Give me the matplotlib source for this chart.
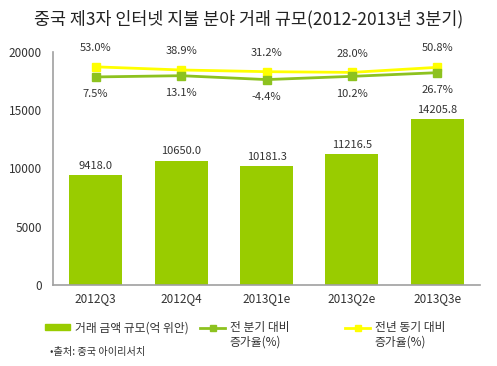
import matplotlib.pyplot as plt
from matplotlib.lines import Line2D
from matplotlib.patches import Patch

plt.rcParams['font.family'] = ['Noto Sans CJK KR', 'DejaVu Sans']

quarters = ['2012Q3', '2012Q4', '2013Q1e', '2013Q2e', '2013Q3e']
volume = [9418.0, 10650.0, 10181.3, 11216.5, 14205.8]
qoq = [7.5, 13.1, -4.4, 10.2, 26.7]
yoy = [53.0, 38.9, 31.2, 28.0, 50.8]

bar_color = '#99CC00'
qoq_color = '#8DC21F'
yoy_color = '#FFFF00'
text_color = '#333333'

W, H = 497, 366
fig = plt.figure(figsize=(W / 100, H / 100), dpi=100)
ax = fig.add_axes([0.1066, 0.2213, 0.8594, 0.6367])

x = range(len(quarters))
ax.bar(x, volume, width=0.62, color=bar_color, zorder=2)
for xi, v in zip(x, volume):
    ax.text(xi, v + 400, f'{v:.1f}', ha='center', va='bottom', fontsize=8, color=text_color)

ax.set_xlim(-0.5, 4.5)
ax.set_ylim(0, 20000)
ax.set_yticks([0, 5000, 10000, 15000, 20000])
ax.set_xticks(list(x))
ax.set_xticklabels(quarters)
ax.tick_params(length=0, labelsize=8.5, colors=text_color, pad=5)
ax.tick_params(axis='y', pad=8)
for s in ['top', 'right']:
    ax.spines[s].set_visible(False)
for s in ['left', 'bottom']:
    ax.spines[s].set_color('#A0A0A0')
    ax.spines[s].set_linewidth(1.2)

# growth rates on a hidden secondary axis
ax2 = ax.twinx()
ax2.set_ylim(-930, 120)
ax2.axis('off')
ax2.plot(x, yoy, color=yoy_color, lw=2, marker='s', ms=6, zorder=3)
ax2.plot(x, qoq, color=qoq_color, lw=2, marker='s', ms=6, zorder=3)
for xi, v in zip(x, yoy):
    ax2.text(xi, v + 85, f'{v:.1f}%', ha='center', va='center', fontsize=8, color=text_color)
for xi, v in zip(x, qoq):
    ax2.text(xi, v - 78, f'{v:.1f}%', ha='center', va='center', fontsize=8, color=text_color)

fig.text(0.5, 0.948, '중국 제3자 인터넷 지불 분야 거래 규모(2012-2013년 3분기)',
         ha='center', va='center', fontsize=12.5, color='#222222')

# legend: one entry per block, second line of the label written below
leg_fs = 8.5
hl = 2.12
htp = 0.4
px_per_em = leg_fs * 100 / 72
entries = [
    (Patch(color=bar_color), '거래 금액 규모(억 위안)', None, 45),
    (Line2D([], [], color=qoq_color, lw=2, marker='s', ms=4), '전 분기 대비', '증가율(%)', 200),
    (Line2D([], [], color=yoy_color, lw=2, marker='s', ms=4), '전년 동기 대비', '증가율(%)', 345),
]
y1 = (H - 328) / H
y2 = (H - 342) / H
for handle, first, second, x0 in entries:
    fig.legend([handle], [first], loc='center left', bbox_to_anchor=(x0 / W, y1),
               frameon=False, fontsize=leg_fs, handlelength=hl, handleheight=0.4,
               handletextpad=htp, borderpad=0, borderaxespad=0, labelcolor=text_color)
    if second:
        tx = x0 + (hl + htp) * px_per_em
        fig.text(tx / W, y2, second, ha='left', va='center', fontsize=leg_fs, color=text_color)

fig.text(50 / W, (H - 352) / H, '•출처: 중국 아이리서치', ha='left', va='center',
         fontsize=7.3, color=text_color)

fig.savefig('out.png', dpi=100)
